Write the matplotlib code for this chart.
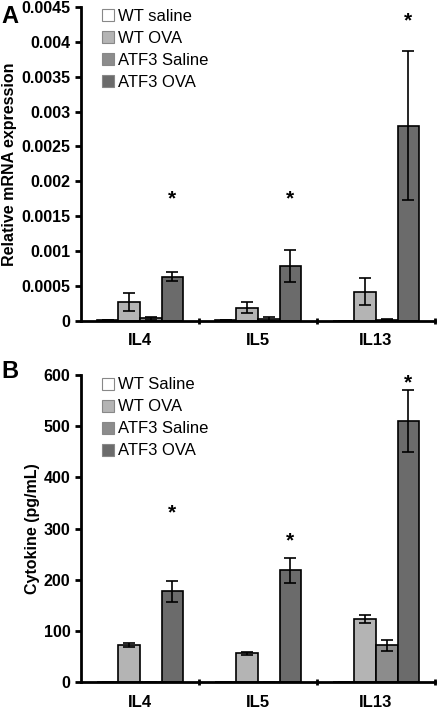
import matplotlib.pyplot as plt
import numpy as np

plt.rcParams['font.family'] = ['Liberation Sans', 'DejaVu Sans']

#data
genes = ["IL4", "IL5", "IL13"]
groups_a = ["WT saline", "WT OVA", "ATF3 Saline", "ATF3 OVA"]
groups_b = ["WT Saline", "WT OVA", "ATF3 Saline", "ATF3 OVA"]
colors = ["white", "#b4b4b4", "#8c8c8c", "#6b6b6b"]

#panel A - relative mRNA expression
mrna = [
    [0.00001, 0.00001, 0.0],       # WT saline
    [0.00027, 0.00019, 0.00042],   # WT OVA
    [0.00004, 0.00003, 0.00002],   # ATF3 saline
    [0.000635, 0.00079, 0.0028],   # ATF3 OVA
]
mrna_err = [
    [0.0, 0.0, 0.0],
    [0.00013, 0.00008, 0.00019],
    [0.00002, 0.00003, 0.00001],
    [0.00007, 0.00023, 0.00107],
]
star_a = [0.00175, 0.00175, 0.0043]

#panel B - cytokine
cyto = [
    [0, 0, 0],
    [73, 56, 123],
    [0, 0, 72],
    [177, 218, 510],
]
cyto_err = [
    [0, 0, 0],
    [4, 3, 8],
    [0, 0, 11],
    [21, 25, 60],
]
star_b = [330, 275, 585]

fig = plt.figure(figsize=(4.37, 7.10), dpi=100)
axA = fig.add_axes([0.1854, 0.548, 0.81, 0.4423])
axB = fig.add_axes([0.1854, 0.0394, 0.81, 0.4324])

x = np.arange(len(genes))
w = 0.183


def draw(ax, vals, errs, names, stars, ymax, step, ylabel, fmt):
    for i in range(4):
        ax.bar(x + (i - 1.5) * w, vals[i], w, yerr=errs[i], color=colors[i],
               edgecolor='black', linewidth=1.2, label=names[i],
               error_kw=dict(ecolor='black', elinewidth=1.2, capsize=4, capthick=1.2))
    for j in range(3):
        ax.text(x[j] + 1.5 * w, stars[j], "*", ha='center', va='center',
                fontsize=15, fontweight='bold')
    ax.set_xlim(-0.5, 2.5)
    ax.set_ylim(0, ymax)
    ticks = np.arange(0, ymax + step / 2, step)
    ax.set_yticks(ticks)
    ax.set_yticklabels([fmt(v) for v in ticks], fontweight='bold', fontsize=11.5)
    ax.set_xticks([0.5, 1.5, 2.5])
    ax.set_xticklabels([])
    ax.set_xticks(x, minor=True)
    ax.set_xticklabels(genes, minor=True, fontweight='bold', fontsize=12)
    ax.tick_params(axis='x', which='major', direction='inout', length=5, width=2)
    ax.tick_params(axis='x', which='minor', length=0, pad=9)
    ax.tick_params(axis='y', direction='out', length=4, width=2)
    ax.spines['top'].set_visible(False)
    ax.spines['right'].set_visible(False)
    ax.spines['left'].set_linewidth(2)
    ax.spines['bottom'].set_linewidth(2)
    ax.set_ylabel(ylabel, fontweight='bold', fontsize=11.5, labelpad=3)
    leg = ax.legend(loc='upper left', bbox_to_anchor=(0.025, 1.03), frameon=False,
                    fontsize=12, handlelength=0.75, handleheight=0.75,
                    handletextpad=0.25, labelspacing=0.42, borderpad=0.2)
    for h in leg.legend_handles:
        h.set_edgecolor('#888888')
        h.set_linewidth(0.8)


def fmt_a(v):
    if v == 0:
        return "0"
    return ("%.4f" % v).rstrip('0')


draw(axA, mrna, mrna_err, groups_a, star_a, 0.0045, 0.0005,
     "Relative mRNA expression", fmt_a)
draw(axB, cyto, cyto_err, groups_b, star_b, 600, 100,
     "Cytokine (pg/mL)", lambda v: "%d" % v)

fig.text(0.003, 0.977, "A", fontsize=17, fontweight='bold', va='center')
fig.text(0.003, 0.477, "B", fontsize=17, fontweight='bold', va='center')

plt.savefig("out.png", dpi=100)
